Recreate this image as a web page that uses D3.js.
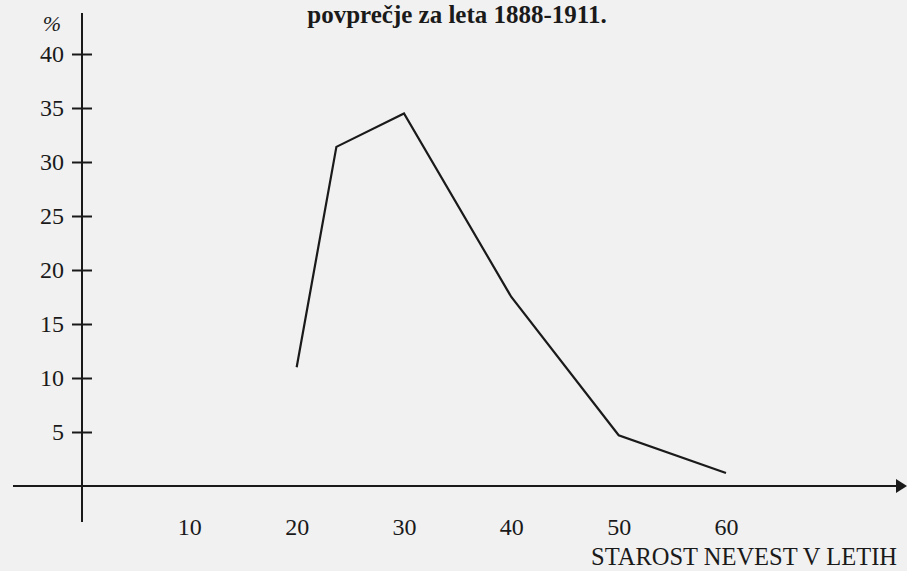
<!DOCTYPE html>
<html>
<head>
<meta charset="utf-8">
<script src="https://cdn.jsdelivr.net/npm/d3@7"></script>
<style>
  body { margin: 0; background: #f1f1f1; }
  svg { display: block; font-family: "Liberation Serif", "Times New Roman", serif; }
</style>
</head>
<body>
<svg id="chart" width="907" height="571"></svg>
<script>
// podatki: delez nevest po starosti (%)
var ages = [20, 23.7, 30, 40, 50, 60];
var shares = [11.0, 31.4, 34.5, 17.5, 4.7, 1.2];
var xTicks = [10, 20, 30, 40, 50, 60];
var yTicks = [5, 10, 15, 20, 25, 30, 35, 40];
var title = "povprečje za leta 1888-1911.";
var xLabel = "STAROST NEVEST V LETIH";

var svg = d3.select("#chart");
var ink = "#1a1a1a";
var serif = "'Liberation Serif', 'Times New Roman', serif";

var x = d3.scaleLinear().domain([0, 60]).range([82, 726]);
var y = d3.scaleLinear().domain([0, 40]).range([486, 54]);

// naslov
svg.append("text")
  .attr("x", 457).attr("y", 23)
  .attr("text-anchor", "middle")
  .style("font-family", serif)
  .style("font-weight", "bold")
  .style("font-size", "25px")
  .attr("fill", ink)
  .text(title);

// os y
svg.append("line")
  .attr("x1", x(0)).attr("x2", x(0))
  .attr("y1", 13).attr("y2", 522)
  .attr("stroke", ink).attr("stroke-width", 2);

var yAxis = svg.append("g")
  .attr("transform", "translate(" + x(0) + ",0)")
  .call(d3.axisLeft(y).tickValues(yTicks).tickSize(10).tickPadding(10));
yAxis.select(".domain").remove();
yAxis.selectAll(".tick line")
  .attr("x1", -10).attr("x2", 10)
  .attr("stroke", ink).attr("stroke-width", 2);
yAxis.selectAll(".tick text")
  .attr("x", -18)
  .attr("fill", ink)
  .style("font-size", "24px")
  .style("font-family", serif);

svg.append("text")
  .attr("x", 52).attr("y", 31)
  .attr("text-anchor", "middle")
  .style("font-family", serif)
  .style("font-size", "22px")
  .style("font-style", "italic")
  .attr("fill", ink)
  .text("%");

// os x s puscico
svg.append("line")
  .attr("x1", 13).attr("x2", 898)
  .attr("y1", y(0)).attr("y2", y(0))
  .attr("stroke", ink).attr("stroke-width", 2);
svg.append("path")
  .attr("d", "M896," + (y(0) - 7) + "L907," + y(0) + "L896," + (y(0) + 7) + "Z")
  .attr("fill", ink);

var xAxis = svg.append("g")
  .attr("transform", "translate(0," + y(0) + ")")
  .call(d3.axisBottom(x).tickValues(xTicks).tickSize(0).tickPadding(32));
xAxis.select(".domain").remove();
xAxis.selectAll(".tick text")
  .attr("fill", ink)
  .style("font-size", "24px")
  .style("font-family", serif);

svg.append("text")
  .attr("x", 897).attr("y", 565)
  .attr("text-anchor", "end")
  .style("font-family", serif)
  .style("font-size", "24.5px")
  .attr("fill", ink)
  .text(xLabel);

// krivulja
var line = d3.line()
  .x(function (d, i) { return x(ages[i]); })
  .y(function (d) { return y(d); });

svg.append("path")
  .datum(shares)
  .attr("d", line)
  .attr("fill", "none")
  .attr("stroke", ink)
  .attr("stroke-width", 2.2)
  .attr("stroke-linejoin", "miter");
</script>
</body>
</html>
